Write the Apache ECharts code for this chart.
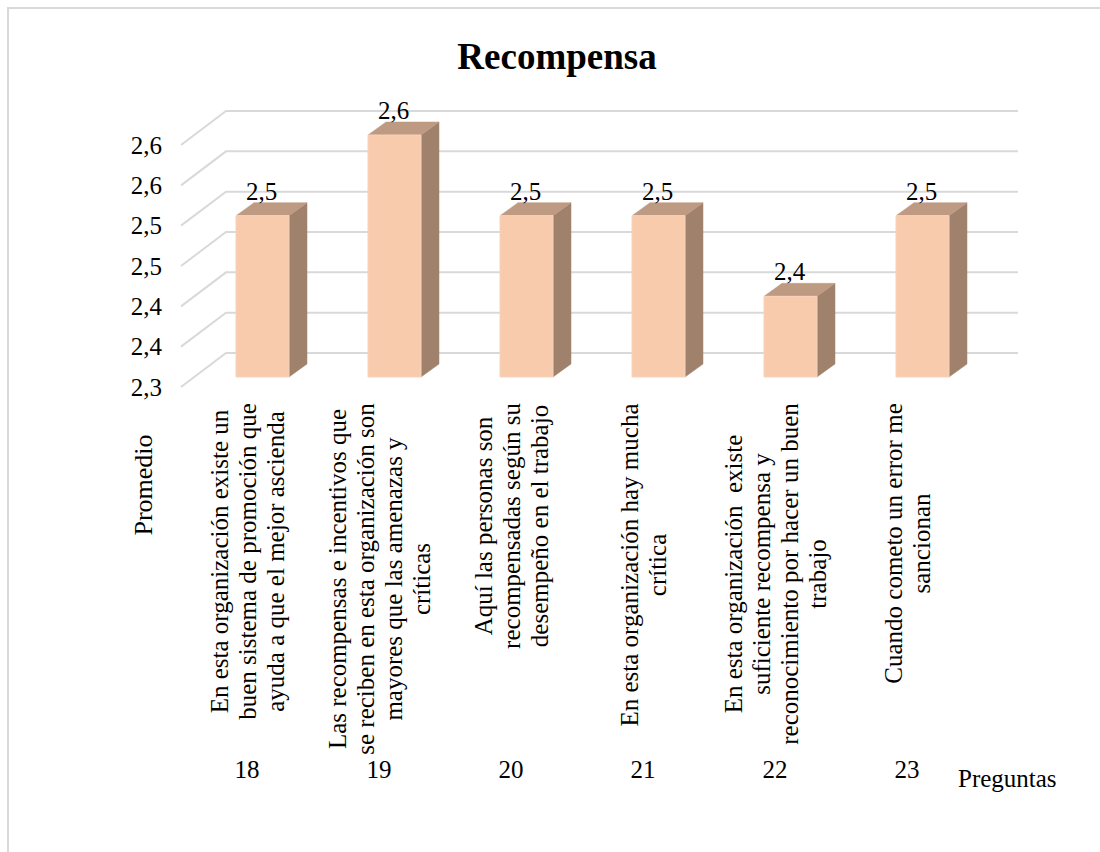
<!DOCTYPE html>
<html>
<head>
<meta charset="utf-8">
<script src="https://cdn.jsdelivr.net/npm/echarts@6/dist/echarts.min.js"></script>
<style>
html,body{margin:0;padding:0;background:#fff;}
#chart{width:1100px;height:852px;}
</style>
</head>
<body>
<div id="chart"></div>
<script>
// ---- data ----
const categories = ['18', '19', '20', '21', '22', '23'];
const questionLines = [
  ['En esta organización existe un', 'buen sistema de promoción que', 'ayuda a que el mejor ascienda'],
  ['Las recompensas e incentivos que', 'se reciben en esta organización son', 'mayores que las amenazas y', 'críticas'],
  ['Aquí las personas son', 'recompensadas según su', 'desempeño en el trabajo'],
  ['En esta organización hay mucha', 'crítica'],
  ['En esta organización  existe', 'suficiente recompensa y', 'reconocimiento por hacer un buen', 'trabajo'],
  ['Cuando cometo un error me', 'sancionan']
];
const values = [2.5, 2.6, 2.5, 2.5, 2.4, 2.5];
const tickValues = [2.3, 2.35, 2.4, 2.45, 2.5, 2.55, 2.6];
const tickLabels = ['2,3', '2,4', '2,4', '2,5', '2,5', '2,6', '2,6'];
const yMin = 2.3, yMax = 2.6, yStep = 0.05;

// ---- styles ----
const FONT = "'Liberation Serif', 'Times New Roman', serif";
const FS = 25;
const Q_LINE_H = 28;
const DEPTH_WALL = [45, -34];
const BAR_FRONT = [15.5, -10];
const BAR_DEPTH = [18, -13];
const BAR_W = 53;

// measure label widths for centred multi-line rotated labels
const mctx = document.createElement('canvas').getContext('2d');
mctx.font = FS + 'px ' + FONT;
const rich = {};
questionLines.forEach((lines, i) => {
  let w = 0;
  lines.forEach(l => { w = Math.max(w, mctx.measureText(l).width); });
  rich['q' + i] = { width: Math.ceil(w) + 2, align: 'center', fontSize: FS, fontFamily: FONT, lineHeight: Q_LINE_H, color: '#000' };
});

const chart = echarts.init(document.getElementById('chart'), null, { renderer: 'svg' });

const option = {
  backgroundColor: '#fff',
  animation: false,
  title: {
    text: 'Recompensa',
    left: 552,
    top: 33,
    textAlign: 'center',
    textStyle: { fontFamily: FONT, fontSize: 37, fontWeight: 'bold', color: '#000' }
  },
  graphic: [
    {
      type: 'rect', silent: true, z: -10,
      shape: { x: 8, y: 8, width: 1300, height: 1000 },
      style: { fill: null, stroke: '#d9d9d9', lineWidth: 2 }
    },
    {
      type: 'text', silent: true,
      x: 143, y: 485, rotation: Math.PI / 2,
      style: { text: 'Promedio', fontFamily: FONT, fontSize: 26, fill: '#000', align: 'center', verticalAlign: 'middle' }
    }
  ],
  grid: { left: 181, right: 127, top: 145, bottom: 465, containLabel: false },
  xAxis: [
    {
      type: 'category',
      data: categories,
      position: 'bottom',
      offset: 366,
      axisLine: { show: false },
      axisTick: { show: false },
      axisLabel: { margin: 4, fontFamily: FONT, fontSize: FS, color: '#000', interval: 0 },
      name: 'Preguntas',
      nameLocation: 'end',
      nameGap: -15,
      nameTextStyle: { fontFamily: FONT, fontSize: FS, color: '#000', align: 'left', verticalAlign: 'top', padding: [13, 0, 0, 0] }
    },
    {
      type: 'category',
      data: categories,
      position: 'bottom',
      offset: 0,
      axisLine: { show: false },
      axisTick: { show: false },
      axisLabel: {
        interval: 0,
        rotate: 90,
        margin: 15,
        fontFamily: FONT,
        fontSize: FS,
        color: '#000',
        formatter: (val, idx) => questionLines[idx].map(l => '{q' + idx + '|' + l + '}').join('\n'),
        rich: rich
      }
    }
  ],
  yAxis: {
    type: 'value',
    min: yMin,
    max: yMax,
    interval: yStep,
    axisLine: { show: false },
    axisTick: { show: false },
    splitLine: { show: false },
    axisLabel: {
      margin: 19,
      fontFamily: FONT,
      fontSize: FS,
      color: '#000',
      formatter: (v) => tickLabels[Math.round((v - yMin) / yStep)]
    }
  },
  series: [
    {
      type: 'custom',
      name: 'grid3d',
      xAxisIndex: 0,
      silent: true,
      z: 1,
      data: tickValues.map(v => [0, v]),
      renderItem: (params, api) => {
        const cs = params.coordSys;
        const y = api.coord([0, api.value(1)])[1];
        return {
          type: 'polyline',
          shape: { points: [[cs.x, y], [cs.x + DEPTH_WALL[0], y + DEPTH_WALL[1]], [cs.x + cs.width + DEPTH_WALL[0], y + DEPTH_WALL[1]]] },
          style: { stroke: '#d9d9d9', lineWidth: 2, fill: null }
        };
      }
    },
    {
      type: 'custom',
      name: 'Promedio',
      xAxisIndex: 0,
      z: 2,
      data: values.map((v, i) => [i, v]),
      renderItem: (params, api) => {
        const i = api.value(0), v = api.value(1);
        const top = api.coord([i, v]);
        const base = api.coord([i, yMin]);
        const cx = top[0] + BAR_FRONT[0];
        const x0 = cx - BAR_W / 2, x1 = cx + BAR_W / 2;
        const yT = top[1] + BAR_FRONT[1], yB = base[1] + BAR_FRONT[1];
        const dx = BAR_DEPTH[0], dy = BAR_DEPTH[1];
        return {
          type: 'group',
          children: [
            {
              type: 'polygon',
              shape: { points: [[x1, yT], [x1 + dx, yT + dy], [x1 + dx, yB + dy], [x1, yB]] },
              style: { fill: '#A0826C', stroke: '#A0826C', lineWidth: 0.5 }
            },
            {
              type: 'polygon',
              shape: { points: [[x0, yT], [x1, yT], [x1 + dx, yT + dy], [x0 + dx, yT + dy]] },
              style: { fill: '#BF9A82', stroke: '#BF9A82', lineWidth: 0.5 }
            },
            {
              type: 'rect',
              shape: { x: x0, y: yT, width: BAR_W, height: yB - yT },
              style: { fill: '#F8CBAD', stroke: '#F9D3BA', lineWidth: 1 }
            },
            {
              type: 'text',
              x: cx - 1,
              y: yT + dy + 1,
              style: {
                text: v.toFixed(1).replace('.', ','),
                fontFamily: FONT, fontSize: FS, fill: '#000',
                align: 'center', verticalAlign: 'bottom'
              }
            }
          ]
        };
      }
    }
  ]
};
chart.setOption(option);
</script>
</body>
</html>
